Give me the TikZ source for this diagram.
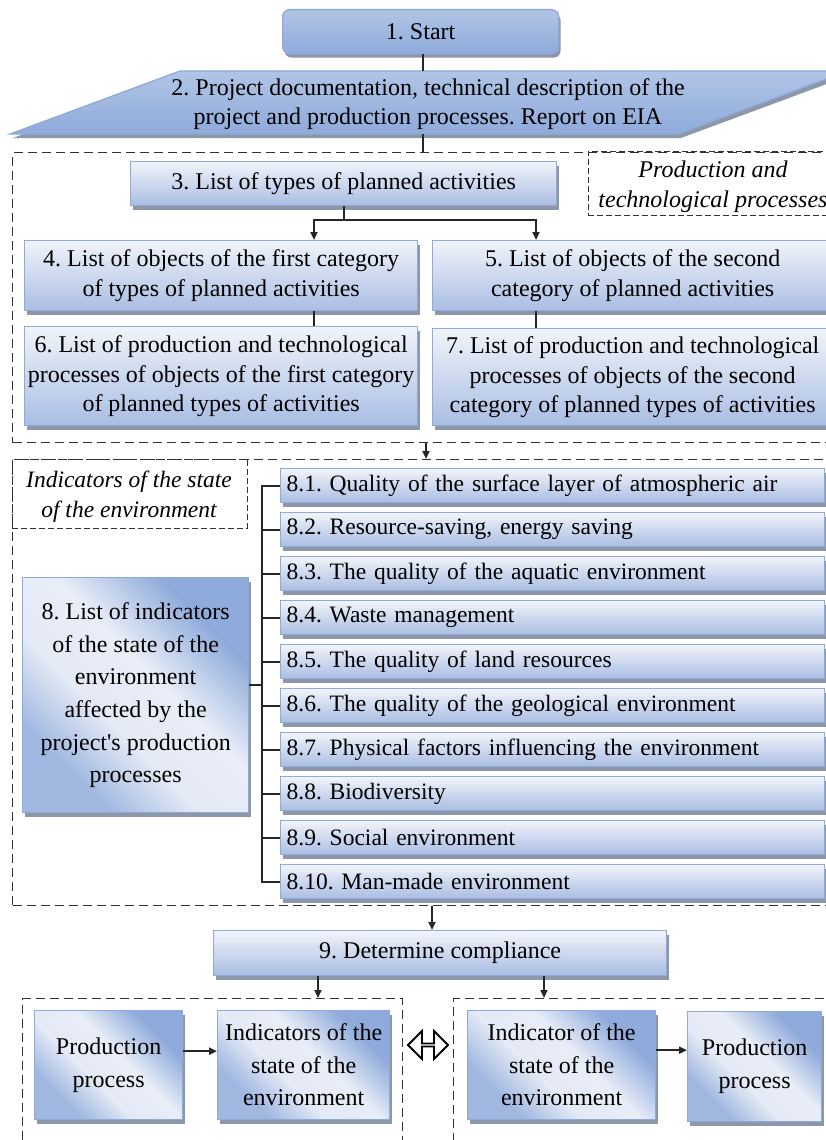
\documentclass[tikz,border=0pt]{standalone}
\usepackage{fontspec}
\setmainfont{Liberation Serif}
\usetikzlibrary{arrows.meta,shadows,shapes.arrows,calc}
\definecolor{bborder}{HTML}{8EAADB}
\definecolor{btop}{HTML}{F1F4FA}
\definecolor{bbot}{HTML}{A9BDE3}
\definecolor{bmid}{HTML}{E4EAF6}
\definecolor{bdark}{HTML}{8FABDB}
\definecolor{shadowc}{HTML}{8D97A8}
\definecolor{dashc}{HTML}{333333}
\pgfdeclareverticalshading{diagsh}{100bp}{color(0bp)=(bdark!85!white); color(28bp)=(bdark!85!white); color(42bp)=(bmid); color(56bp)=(bmid!85!white); color(72bp)=(bdark); color(100bp)=(bdark)}
\tikzset{
  gbox/.style={draw=bborder, line width=1.3pt, inner sep=0pt, align=center,
    drop shadow={shadow xshift=2pt, shadow yshift=-4pt, fill=shadowc, opacity=1},
    anchor=north west},
  vshade/.style={top color=btop, bottom color=bbot},
  tshade/.style={top color=bdark!70!white, middle color=bmid, bottom color=bdark},
  xshade/.style={shading=diagsh, shading angle=-45},
  item/.style={gbox, vshade, minimum width=544, minimum height=34, text width=532, align=left,
    font=\fontsize{23.5}{28}\selectfont},
  dbox/.style={draw=dashc, line width=1.3pt, dash pattern=on 9pt off 5pt, anchor=north west, inner sep=0pt},
  lbox/.style={draw=dashc, line width=0.9pt, dash pattern=on 6pt off 3pt, anchor=north west, inner sep=0pt},
  conn/.style={draw=black!85, line width=2pt},
  arr/.style={conn, -{Triangle[length=8pt,width=7pt]}},
}
\frenchspacing
\begin{document}
\begin{tikzpicture}[x=1pt, y=-1pt, font=\fontsize{24}{29.5}\selectfont]
\useasboundingbox (0,0) rectangle (825,1140);

% 1. Start
\node[gbox, tshade, rounded corners=7pt, minimum width=276, minimum height=44] (start) at (282,9) {1. Start};

% 2. Parallelogram
\coordinate (pt) at (423,71);
\coordinate (pb) at (423,134);
\fill[shadowc] (13,138) -- (183,75) -- (851,75) -- (681,138) -- cycle;
\path[draw=bborder, line width=1.3pt, tshade] (10,134) -- (180,71) -- (848,71) -- (678,134) -- cycle;
\node[align=center, inner sep=0pt] (doc) at (428,104) {2. Project documentation, technical description of the\\project and production processes. Report on EIA};
\draw[conn] (start.south -| pt) -- (pt);

% group 1
\node[dbox, minimum width=840, minimum height=290] (grp1) at (12,152) {};
\draw[conn] (pb) -- (pb |- grp1.north);
\node[lbox, minimum width=270, minimum height=64] (lab1) at (588,151) {};
\node[font=\fontsize{24}{30}\selectfont\itshape, align=center, inner sep=0pt] (lab1t) at (713,187) {Production and\\technological processes};

\node[gbox, vshade, minimum width=426, minimum height=44] (b3) at (130,161) {3. List of types of planned activities};
\node[gbox, vshade, minimum width=393, minimum height=70] (b4) at (24,240) {4. List of objects of the first category\\of types of planned activities};
\node[gbox, vshade, minimum width=400, minimum height=70] (b5) at (432,240) {5. List of objects of the second\\category of planned activities};
\node[gbox, vshade, minimum width=393, minimum height=99] (b6) at (24,326) {6. List of production and technological\\processes of objects of the first category\\of planned types of activities};
\node[gbox, vshade, minimum width=400, minimum height=97] (b7) at (432,328) {7. List of production and technological\\processes of objects of the second\\category of planned types of activities};

\coordinate (cL) at (314,0);
\coordinate (cR) at (536,0);
\draw[arr] (b3.south) -- ++(0,14) -| (cL |- b4.north);
\draw[arr] (b3.south) ++(0,14) -| (cR |- b5.north);
\draw[conn] (cL |- b4.south) -- (cL |- b6.north);
\draw[conn] (cR |- b5.south) -- (cR |- b7.north);

% group 2
\node[dbox, minimum width=840, minimum height=446] (grp2) at (12,459) {};
\coordinate (cM) at (426,0);
\draw[arr] (cM |- grp1.south) -- (cM |- grp2.north);
\node[lbox, minimum width=235, minimum height=69] (lab2) at (12,459) {};
\node[font=\fontsize{23.5}{30}\selectfont\itshape, align=center, inner sep=0pt] (lab2t) at (129,497) {Indicators of the state\\of the environment};

\node[gbox, xshade, minimum width=226, minimum height=235, font=\fontsize{24}{32.7}\selectfont] (b8) at (22,577) {8. List of indicators\\of the state of the\\environment\\affected by the\\project\textquotesingle s production\\processes};

\node[item] (i1) at (280,468) {8.1. Quality of the surface layer of atmospheric air};
\node[item] (i2) at (280,512) {8.2. Resource-saving, energy saving};
\node[item] (i3) at (280,556) {8.3. The quality of the aquatic environment};
\node[item] (i4) at (280,600) {8.4. Waste management};
\node[item] (i5) at (280,644) {8.5. The quality of land resources};
\node[item] (i6) at (280,688) {8.6. The quality of the geological environment};
\node[item] (i7) at (280,732) {8.7. Physical factors influencing the environment};
\node[item] (i8) at (280,776) {8.8. Biodiversity};
\node[item] (i9) at (280,820) {8.9. Social environment};
\node[item] (i10) at (280,864) {8.10. Man-made environment};

\coordinate (cB) at (262,0);
\draw[conn] (i1.west) -- (cB |- i1.west) -- (cB |- i10.west) -- (i10.west);
\foreach \k in {2,...,9} {\draw[conn] (i\k.west) -- (cB |- i\k.west);}
\coordinate (b8e) at ([yshift=10pt]b8.east);
\draw[conn] (b8e) -- (cB |- b8e);

% 9
\node[gbox, vshade, minimum width=453, minimum height=45] (b9) at (213,930) {9. Determine compliance};
\coordinate (cN) at (432,0);
\draw[arr] (cN |- grp2.south) -- (cN |- b9.north);

% bottom groups
\node[dbox, minimum width=380, minimum height=200] (grp3) at (22,998) {};
\node[dbox, minimum width=400, minimum height=200] (grp4) at (453,998) {};
\coordinate (cP) at (318,0);
\coordinate (cQ) at (544,0);
\draw[arr] (cP |- b9.south) -- (cP |- grp3.north);
\draw[arr] (cQ |- b9.south) -- (cQ |- grp4.north);

\node[gbox, xshade, minimum width=148, minimum height=109, font=\fontsize{24}{33}\selectfont] (pp1) at (34,1010) {Production\\process};
\node[gbox, xshade, minimum width=172, minimum height=109, font=\fontsize{24}{32.5}\selectfont] (ind1) at (217,1010) {Indicators of the\\state of the\\environment};
\node[gbox, xshade, minimum width=188, minimum height=109, font=\fontsize{24}{32.5}\selectfont] (ind2) at (467,1010) {Indicator of the\\state of the\\environment};
\node[gbox, xshade, minimum width=134, minimum height=110, font=\fontsize{24}{33}\selectfont] (pp2) at (687,1011) {Production\\process};

\coordinate (pp1e) at ([yshift=14pt]pp1.east);
\coordinate (ind2e) at ([yshift=15pt]ind2.east);
\draw[arr] (pp1e) -- (pp1e -| ind1.west);
\draw[arr] (ind2e) -- (ind2e -| pp2.west);

\node[double arrow, draw=black, line width=1.8pt, fill=white, inner sep=0pt,
  minimum height=40, minimum width=28, double arrow head extend=7.5pt] (dbl) at (428,1045) {};
\end{tikzpicture}
\end{document}
